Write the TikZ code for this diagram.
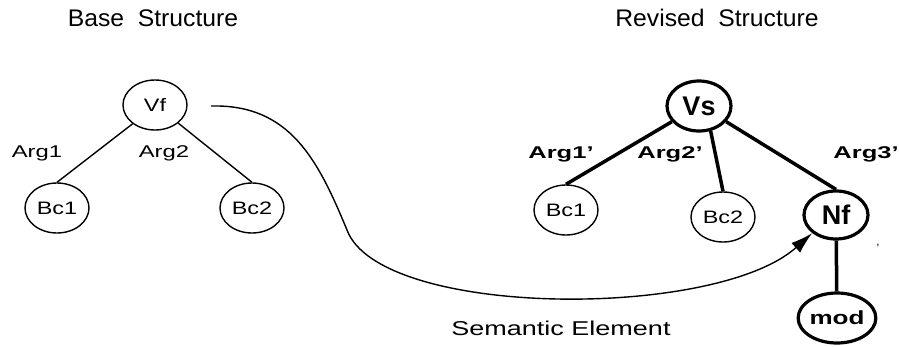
\documentclass[tikz,border=0pt]{standalone}
\usepackage{fontspec}
\setmainfont{Liberation Sans}
\usepackage{graphicx}
\usepackage{tikz}
\usetikzlibrary{arrows.meta, shapes.geometric}
\newcommand{\widetext}[2][1.3]{\scalebox{#1}[1]{#2}}

\begin{document}
\begin{tikzpicture}[x=1pt, y=-1pt,
  plainnode/.style={ellipse, draw, line width=1.4pt, minimum width=64pt, minimum height=50pt, inner sep=0pt, font=\fontsize{18}{21}\selectfont},
  heavynode/.style={plainnode, line width=3.2pt},
  bignode/.style={heavynode, font=\fontsize{27}{30}\selectfont\bfseries},
  titletext/.style={font=\fontsize{24}{28}\selectfont},
  argplain/.style={font=\fontsize{17}{20}\selectfont},
  argbold/.style={font=\fontsize{17}{20}\selectfont\bfseries},
  thinedge/.style={line width=1.4pt},
  heavyedge/.style={line width=3.5pt}]
  \useasboundingbox (0,0) rectangle (899,346);

  % Titles
  \node[titletext] (basetitle) at (153,18) {\widetext[1.03]{Base\ \ Structure}};
  \node[titletext] (revtitle) at (717,18) {\widetext[1.03]{Revised\ \ Structure}};

  % Base structure
  \node[plainnode] (vf) at (155,105) {\widetext{Vf}};
  \node[plainnode] (bcA) at (57,208) {\widetext{Bc1}};
  \node[plainnode] (bcB) at (252,208) {\widetext{Bc2}};
  \draw[thinedge] (vf.220) -- (bcA.north);
  \draw[thinedge] (vf.-38) -- (bcB.north);
  \node[argplain] (argA) at (37,153) {\widetext[1.4]{Arg1}};
  \node[argplain] (argB) at (164,153) {\widetext[1.4]{Arg2}};

  % Revised structure
  \node[bignode] (vs) at (699,106) {Vs};
  \node[plainnode] (bcC) at (566,210) {\widetext{Bc1}};
  \node[plainnode] (bcD) at (723,217) {\widetext{Bc2}};
  \node[bignode, minimum height=48pt] (nf) at (836,215) {Nf};
  \node[heavynode, font=\fontsize{19}{22}\selectfont\bfseries] (mod) at (837,318) {\widetext[1.37]{mod}};
  \draw[heavyedge] (vs.210) -- (bcC.north);
  \draw[heavyedge] (vs.-65) -- (bcD.north);
  \draw[heavyedge] (vs.-30) -- (nf.north);
  \draw[heavyedge] (nf) -- (mod);
  \node[argbold] (argC) at (561,154) {\widetext[1.5]{Arg1'}};
  \node[argbold] (argD) at (670,154) {\widetext[1.5]{Arg2'}};
  \node[argbold] (argE) at (866,154) {\widetext[1.5]{Arg3'}};
  \node[font=\fontsize{12}{14}\selectfont] (tick) at (878,248) {'};

  % Semantic element arrow
  \coordinate (semstart) at (211,106);
  \coordinate (semdip) at (347,230);
  \draw[thinedge, -{Latex[length=22pt, width=13pt]}] (semstart) .. controls (290,104) and (318,160) .. (semdip)
    .. controls (380,318) and (715,320) .. (nf.south west);
  \node[font=\fontsize{20}{24}\selectfont] (semlabel) at (561,328) {\widetext[1.35]{Semantic Element}};
\end{tikzpicture}
\end{document}
